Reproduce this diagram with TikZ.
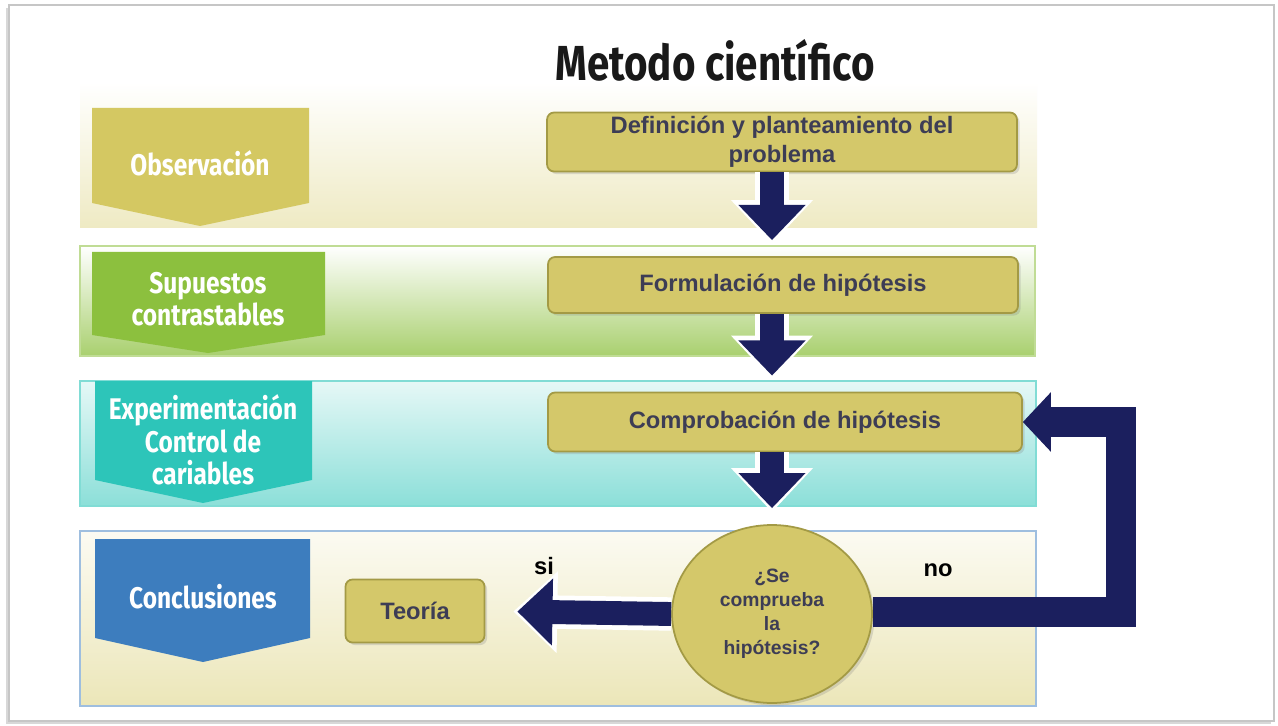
\documentclass[tikz,border=0pt]{standalone}
\usepackage{fontspec}
\setmainfont{Liberation Sans}
\newfontfamily\condfont[FakeStretch=0.82]{Fira Sans}
\usetikzlibrary{positioning,arrows.meta,shapes.geometric,shadows}

\definecolor{navy}{HTML}{1B1F5E}
\definecolor{boxfill}{HTML}{D4C86A}
\definecolor{boxline}{HTML}{A39A45}
\definecolor{boxtext}{HTML}{3D3D55}
\definecolor{obscol}{HTML}{D4C862}
\definecolor{supcol}{HTML}{8CC03E}
\definecolor{expcol}{HTML}{2DC5B9}
\definecolor{concol}{HTML}{3D7DBE}

\begin{document}
\begin{tikzpicture}[x=0.02cm, y=-0.02cm,
  stepbox/.style={draw=boxline, fill=boxfill, rounded corners=4pt, line width=1pt, text=boxtext,
    font=\bfseries\fontsize{13.5}{16.4}\selectfont, align=center, inner sep=0pt,
    drop shadow={opacity=0.25, shadow xshift=1.5pt, shadow yshift=-1.5pt}},
  chevtext/.style={text=white, font=\condfont\bfseries\fontsize{17}{18.5}\selectfont, align=center},
  lbl/.style={font=\bfseries\fontsize{13.5}{16}\selectfont},
  arrowrim/.style={draw=white, line width=19pt, -{Triangle[width=45pt,length=25pt]}, shorten >=0.24cm},
  downarrow/.style={draw=navy, line width=13.6pt, -{Triangle[width=37pt,length=20pt]}, shorten >=0.32cm},
  looparrow/.style={draw=navy, line width=17pt, line join=miter, -{Triangle[width=33pt,length=16pt]}}
  ]

  \useasboundingbox (0,0) rectangle (1278,726);
  \fill[white] (0,0) rectangle (1278,726);
  \draw[gray!45, line width=1.2pt, fill=white, drop shadow={opacity=0.3, shadow xshift=-1.5pt, shadow yshift=-1.5pt}] (9,5) rectangle (1274,721);

  \node[text=black!90, font=\condfont\bfseries\fontsize{28}{30}\selectfont] (title) at (715,60) {Metodo científico};

  \shade[top color=white, bottom color=obscol!38] (80,82) rectangle (1037,228);
  \shade[top color=white, middle color=white, bottom color=supcol!75, draw=supcol!55, line width=0.8pt] (80,246) rectangle (1035,356);
  \shade[top color=expcol!12, bottom color=expcol!55, draw=expcol!60, line width=0.8pt] (80,381) rectangle (1036,506);
  \shade[top color=obscol!8, bottom color=obscol!45, draw=concol!50, line width=0.8pt] (80,531) rectangle (1036,706);

  \fill[obscol] (92,108) -- (309,108) -- (309,203) -- (200,226) -- (92,203) -- cycle;
  \fill[supcol] (92,252) -- (325,252) -- (325,335) -- (208,353) -- (92,335) -- cycle;
  \fill[expcol] (95,381) -- (312,381) -- (312,480) -- (203,503) -- (95,480) -- cycle;
  \fill[concol] (95,539) -- (310,539) -- (310,638) -- (203,662) -- (95,638) -- cycle;

  \node[chevtext] (obs) at (200,163) {Observación};
  \node[chevtext] (sup) at (208,299) {Supuestos\\contrastables};
  \node[chevtext] (exp) at (203,440) {Experimentación\\Control de\\cariables};
  \node[chevtext] (con) at (203,597) {Conclusiones};

  \node[stepbox, minimum width=9.4cm, minimum height=1.18cm] (def) at (782,142) {Definición y planteamiento del\\problema};
  \node[stepbox, minimum width=9.4cm, minimum height=1.12cm] (form) at (783,285) {Formulación de hipótesis};
  \node[stepbox, minimum width=9.48cm, minimum height=1.18cm] (comp) at (785,422) {Comprobación de hipótesis};
  \node[stepbox, minimum width=2.78cm, minimum height=1.26cm] (teo) at (415,611) {Teoría};
  \node[stepbox, ellipse, minimum width=4cm, minimum height=3.56cm, font=\bfseries\fontsize{11}{13.6}\selectfont] (hyp) at (772,614) {¿Se\\comprueba\\la\\hipótesis?};

  \node[lbl] (si) at (544,566) {si};
  \node[lbl] (no) at (938,570) {no};

  \draw[arrowrim] (def.south -| hyp) -- (form.north -| hyp);
  \draw[downarrow] (def.south -| hyp) -- (form.north -| hyp);
  \draw[arrowrim] (form.south -| hyp) -- (comp.north -| hyp);
  \draw[downarrow] (form.south -| hyp) -- (comp.north -| hyp);
  \draw[arrowrim] (comp.south -| hyp) -- (hyp.north);
  \draw[downarrow] (comp.south -| hyp) -- (hyp.north);

  \draw[arrowrim, shorten >=0.56cm] (hyp.west) -- (teo.east);
  \draw[downarrow, shorten >=0.64cm] (hyp.west) -- (teo.east);

  \coordinate (loop) at (1121,612);
  \draw[looparrow] (hyp.east |- loop) -- (loop) |- (comp.east);
  \end{tikzpicture}
\end{document}
